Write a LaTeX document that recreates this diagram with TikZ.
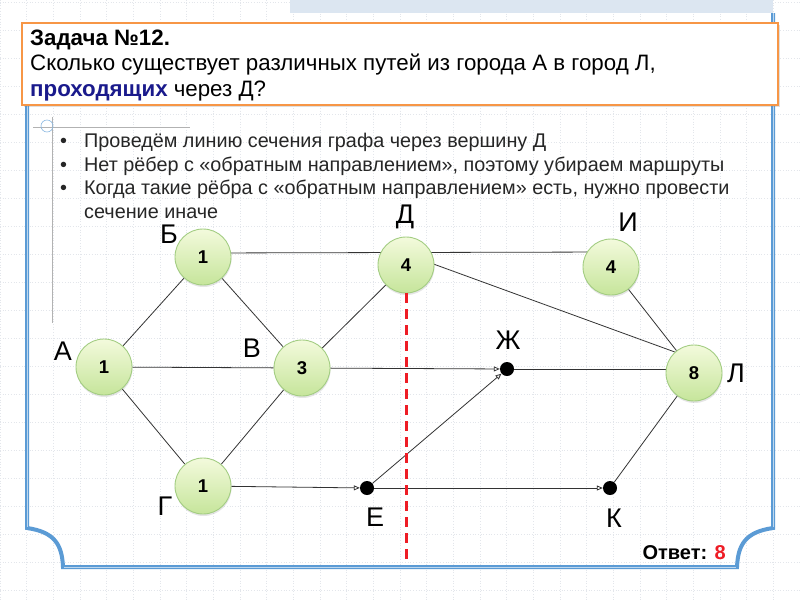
\documentclass[tikz,border=0pt]{standalone}
\usepackage{fontspec}
\setmainfont{Liberation Sans}
\usetikzlibrary{arrows.meta,shadows}

\definecolor{gridgray}{HTML}{E3E6EB}
\definecolor{bandblue}{HTML}{DCE6F1}
\definecolor{framecol}{HTML}{5B9BD5}
\definecolor{framelight}{HTML}{BDD7EE}
\definecolor{boxorange}{HTML}{F79646}
\definecolor{taskblue}{HTML}{1A1A8C}
\definecolor{cityfill}{HTML}{F3FADC}
\definecolor{citydark}{HTML}{C6E59B}
\definecolor{cityedge}{HTML}{A3CD82}
\definecolor{cutred}{HTML}{EE1C25}

\newcommand\tasksize{\fontsize{22.3}{25}\selectfont}
\newcommand\notesize{\fontsize{19.8}{23}\selectfont}
\newcommand\lettersize{\fontsize{27}{27}\selectfont}

\pgfdeclarelayer{paper}
\pgfdeclarelayer{roads}
\pgfsetlayers{paper,roads,main}

\begin{document}
\begin{tikzpicture}[x=1pt,y=-1pt,
  gridline/.style={gridgray, dotted, line width=0.7pt},
  frame/.style={framecol, line width=4pt},
  frameinner/.style={framelight, line width=1pt},
  taskbox/.style={draw=boxorange, fill=white, line width=1.6pt,
    drop shadow={opacity=0.25, shadow xshift=1.5pt, shadow yshift=-1.5pt}},
  tasktext/.style={anchor=base west, inner sep=0pt, font=\tasksize},
  notetext/.style={anchor=base west, inner sep=0pt, font=\notesize, black!85},
  city/.style={circle, minimum size=56pt, inner sep=0pt, draw=cityedge,
    line width=0.9pt, top color=cityfill, bottom color=citydark,
    font=\bfseries\fontsize{18.5}{18.5}\selectfont,
    drop shadow={opacity=0.2, shadow xshift=0.5pt, shadow yshift=-2pt}},
  point/.style={circle, fill=black, minimum size=14pt, inner sep=0pt},
  letter/.style={font=\lettersize, inner sep=0pt},
  road/.style={draw=black!80, line width=0.8pt},
  oneway/.style={road, -{Triangle[open, length=6pt, width=5pt]}},
  cutline/.style={cutred, line width=3pt, dash pattern=on 10pt off 6pt}]
\useasboundingbox (0,0) rectangle (800,600);

% paper: grid, band and blue frame
\begin{pgfonlayer}{paper}
\fill[white] (0,0) rectangle (800,600);
\foreach \i in {0,...,30}
  \draw[gridline] ({\i*26.67},0) -- ({\i*26.67},600);
\foreach \j in {0,...,21}
  \draw[gridline] (0,{2+\j*28}) -- (800,{2+\j*28});
\fill[bandblue] (290,0) rectangle (773,13);
\draw[frame] (27,60) -- (27,528) .. controls (55,532) and (62,545) .. (63,567)
  -- (737,567) .. controls (738,545) and (745,532) .. (773,528) -- (773,13);
\draw[frameinner] (27,60) -- (27,527);
\draw[frameinner] (773,527) -- (773,13);
\draw[frameinner] (64,567) -- (736,567);
\draw[black!30, line width=0.6pt] (33,127) -- (190,127);
\draw[black!30, line width=0.6pt] (52,117) -- (52,323);
\draw[framecol!70, line width=0.6pt] (47,126) circle (6);
\end{pgfonlayer}

% task
\draw[taskbox] (22,23) rectangle (778,105);
\node[tasktext, font=\tasksize\bfseries] (title1) at (30,45) {Задача №12.};
\node[tasktext] (title2) at (30,70) {Сколько существует различных путей из города А в город Л,};
\node[tasktext] (title3) at (30,96) {{\bfseries\color{taskblue}проходящих} через Д?};

% notes
\foreach \y in {147,171,194}
  \node[notetext] at (60,\y) {•};
\node[notetext] (note1) at (84,147) {Проведём линию сечения графа через вершину Д};
\node[notetext] (note2) at (84,171) {Нет рёбер с «обратным направлением», поэтому убираем маршруты};
\node[notetext] (note3) at (84,194) {Когда такие рёбра с «обратным направлением» есть, нужно провести};
\node[notetext] (note4) at (84,218) {сечение иначе};

% cities
\node[city] (A) at (104,367) {1};
\node[city] (B) at (203,257) {1};
\node[city] (V) at (302,368) {3};
\node[city] (G) at (203,486) {1};
\node[city] (D) at (406,265) {4};
\node[city] (I) at (611,267) {4};
\node[city] (L) at (694,373) {8};
\node[point] (Zh) at (507,369) {};
\node[point] (E) at (367,488) {};
\node[point] (K) at (610,488) {};

\node[letter] (lA) at (63,351) {А};
\node[letter] (lB) at (169,234) {Б};
\node[letter] (lV) at (252,348) {В};
\node[letter] (lG) at (165,506) {Г};
\node[letter] (lD) at (405,217) {Д};
\node[letter] (lI) at (628,222) {И};
\node[letter] (lL) at (736,373) {Л};
\node[letter] (lZh) at (508,340) {Ж};
\node[letter] (lE) at (375,517) {Е};
\node[letter] (lK) at (614,518) {К};

% roads
\begin{pgfonlayer}{roads}
\draw[road] (A) -- (B);
\draw[road] (A) -- (V);
\draw[road] (A) -- (G);
\draw[road] (B) -- (V);
\draw[road] ([yshift=4pt]B.center) -- ([yshift=15pt]I.center);
\draw[road] (V) -- (D);
\draw[road] (V) -- (G);
\draw[road] ([yshift=11pt]D.center) -- ([yshift=14pt]L.center);
\draw[road] (I) -- (L);
\draw[road] (Zh) -- (Zh -| L.center);
\draw[road] (K) -- (L);
\draw[oneway] (V) -- (Zh);
\draw[oneway] (G) -- (E);
\draw[oneway] (E) -- (Zh);
\draw[oneway] (E) -- (K);
\end{pgfonlayer}

% cut through D
\coordinate (cutend) at (404,565);
\draw[cutline] (D.south) -- (D.south |- cutend);

\node[anchor=base east, inner sep=0pt, font=\bfseries\fontsize{20}{20}\selectfont]
  (answer) at (726,559) {Ответ: {\color{cutred}8}};
\end{tikzpicture}
\end{document}
